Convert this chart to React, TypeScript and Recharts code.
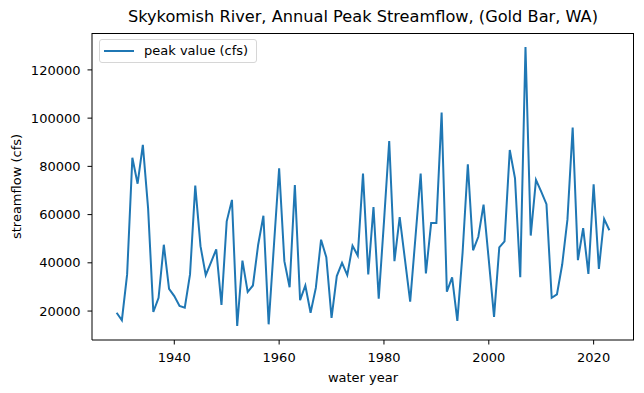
import React from 'react';
import { LineChart, Line, XAxis, YAxis } from 'recharts';

const years: number[] = [
  1929, 1930, 1931, 1932, 1933, 1934, 1935, 1936, 1937, 1938, 1939,
  1940, 1941, 1942, 1943, 1944, 1945, 1946, 1947, 1948, 1949,
  1950, 1951, 1952, 1953, 1954, 1955, 1956, 1957, 1958, 1959,
  1960, 1961, 1962, 1963, 1964, 1965, 1966, 1967, 1968, 1969,
  1970, 1971, 1972, 1973, 1974, 1975, 1976, 1977, 1978, 1979,
  1980, 1981, 1982, 1983, 1984, 1985, 1986, 1987, 1988, 1989,
  1990, 1991, 1992, 1993, 1994, 1995, 1996, 1997, 1998, 1999,
  2000, 2001, 2002, 2003, 2004, 2005, 2006, 2007, 2008, 2009,
  2010, 2011, 2012, 2013, 2014, 2015, 2016, 2017, 2018, 2019,
  2020, 2021, 2022, 2023,
];

const peakValues: number[] = [
  19300, 16200, 35200, 83600, 72800, 88900, 62700, 19600, 25500, 47500, 29200,
  26200, 22100, 21400, 35200, 72000, 46900, 34900, 40200, 45600, 22500,
  57200, 66100, 13800, 40900, 27900, 30600, 47500, 59500, 14500, 47000,
  79200, 40700, 29900, 72300, 24500, 30600, 19300, 29600, 49600, 42300,
  17200, 34500, 40000, 34900, 47100, 43000, 77000, 35200, 63100, 25100,
  57000, 90500, 40700, 59000, 41400, 23900, 50400, 77000, 35600, 56500,
  56500, 102300, 28000, 34000, 15900, 44300, 80900, 45200, 50800, 64100,
  41100, 17600, 46400, 48900, 86800, 75000, 34000, 129500, 51300, 74400,
  69500, 64300, 25500, 26900, 39300, 57900, 96100, 41100, 54400, 35400,
  72600, 37500, 58200, 53500,
];

const xTicks: number[] = [1940, 1960, 1980, 2000, 2020];
const yTicks: number[] = [20000, 40000, 60000, 80000, 100000, 120000];

const seriesName = 'peak value (cfs)';
const titleText = 'Skykomish River, Annual Peak Streamflow, (Gold Bar, WA)';
const xLabel = 'water year';
const yLabel = 'streamflow (cfs)';

const data = years.map((y, i) => ({ year: y, peak: peakValues[i] }));

const FONT = '"DejaVu Sans", sans-serif';
const LINE_COLOR = '#1f77b4';

const YLabel = () => (
  <text
    x={16}
    y={186.5}
    transform="rotate(-90 16 186.5)"
    textAnchor="middle"
    dominantBaseline="central"
    fontFamily={FONT}
    fontSize={13}
    fill="#000"
  >
    {yLabel}
  </text>
);

const XLabel = () => (
  <text
    x={363}
    y={377}
    textAnchor="middle"
    dominantBaseline="central"
    fontFamily={FONT}
    fontSize={13}
    fill="#000"
  >
    {xLabel}
  </text>
);

export default function App() {
  return (
    <div style={{ position: 'absolute', left: 0, top: 0, width: 644, height: 393, background: '#fff' }}>
      <div
        style={{
          position: 'absolute',
          left: 92,
          width: 542,
          top: 7,
          textAlign: 'center',
          fontFamily: FONT,
          fontSize: 16.2,
          color: '#000',
          whiteSpace: 'nowrap',
        }}
      >
        {titleText}
      </div>
      <LineChart
        width={644}
        height={393}
        data={data}
        margin={{ top: 33, right: 10, bottom: 0, left: 0 }}
      >
        <XAxis
          dataKey="year"
          type="number"
          domain={[1924.3, 2027.7]}
          ticks={xTicks}
          allowDataOverflow
          height={53}
          tickSize={4.5}
          tickMargin={8}
          stroke="#000"
          tick={{ fill: '#000', fontFamily: FONT, fontSize: 13 }}
          tickLine={{ stroke: '#000' }}
          axisLine={{ stroke: '#000' }}
          label={<XLabel />}
        />
        <YAxis
          type="number"
          domain={[8000, 135300]}
          ticks={yTicks}
          allowDataOverflow
          width={92}
          tickSize={4.5}
          tickMargin={7}
          interval={0}
          stroke="#000"
          tick={{ fill: '#000', fontFamily: FONT, fontSize: 13 }}
          tickLine={{ stroke: '#000' }}
          axisLine={{ stroke: '#000' }}
          label={<YLabel />}
        />
        <Line
          type="linear"
          dataKey="peak"
          name={seriesName}
          stroke={LINE_COLOR}
          strokeWidth={2}
          dot={false}
          activeDot={false}
          isAnimationActive={false}
        />
      </LineChart>
      <div
        style={{
          position: 'absolute',
          left: 92,
          top: 33,
          width: 542,
          height: 307,
          boxSizing: 'border-box',
          borderTop: '1px solid #000',
          borderRight: '1px solid #000',
          pointerEvents: 'none',
        }}
      />
      <div
        style={{
          position: 'absolute',
          left: 99,
          top: 39,
          display: 'flex',
          alignItems: 'center',
          border: '1px solid #d6d6d6',
          borderRadius: 3,
          background: 'rgba(255,255,255,0.8)',
          padding: '3px 8px 4px 4px',
          fontFamily: FONT,
          fontSize: 13,
          color: '#000',
          whiteSpace: 'nowrap',
        }}
      >
        <svg width={30} height={8} style={{ marginRight: 10 }}>
          <line x1={0} y1={4} x2={30} y2={4} stroke={LINE_COLOR} strokeWidth={2} />
        </svg>
        <span>{seriesName}</span>
      </div>
    </div>
  );
}
